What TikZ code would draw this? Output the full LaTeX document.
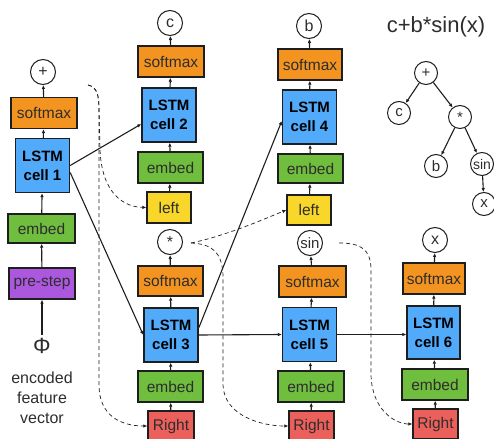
\documentclass[tikz,border=0pt]{standalone}
\usepackage{fontspec}
\setmainfont{Liberation Sans}
\usetikzlibrary{arrows.meta,calc}
\definecolor{smorange}{RGB}{244,148,32}
\definecolor{lstmblue}{RGB}{82,170,250}
\definecolor{embgreen}{RGB}{112,190,62}
\definecolor{leftyellow}{RGB}{248,214,42}
\definecolor{rightred}{RGB}{236,96,92}
\definecolor{prepurple}{RGB}{172,88,222}
\definecolor{boxline}{RGB}{30,30,30}
\definecolor{txt}{RGB}{45,45,45}
\begin{document}
\begin{tikzpicture}[x=1pt,y=-1pt,
 box/.style={draw=boxline,line width=1.4pt,minimum height=31pt,inner sep=0pt,text=txt,font=\fontsize{15.5}{17}\selectfont},
 cell/.style={box,fill=lstmblue,minimum width=54pt,minimum height=54pt,align=center,text=black,font=\fontsize{15}{19}\selectfont\bfseries},
 tok/.style={circle,draw=boxline,line width=1pt,minimum size=25pt,inner sep=0pt,text=txt,font=\fontsize{16}{17}\selectfont},
 tnode/.style={tok,minimum size=23pt,font=\fontsize{15}{16}\selectfont},
 arr/.style={-{Latex[length=4pt,width=3.6pt]},line width=1.1pt,draw=boxline},
 darr/.style={arr,line width=0.7pt,dash pattern=on 4pt off 3pt}]
\useasboundingbox (0,0) rectangle (494,438);
% first step
\node[tok] (plus1) at (43,72) {+};
\node[box,fill=smorange,minimum width=66pt] (sm1) at (44,113) {softmax};
\node[cell] (cell1) at (42.5,165.5) {LSTM\\cell 1};
\node[box,fill=embgreen,minimum width=67pt,minimum height=29pt] (emb1) at (41.5,228.5) {embed};
\node[box,fill=prepurple,minimum width=66pt] (pre) at (42,283.5) {pre-step};
\node[text=txt,font=\fontsize{22}{23}\selectfont] (phi) at (42,346) {Φ};
\node[align=center,text=txt,font=\fontsize{16}{20}\selectfont] (feat) at (42,398) {encoded\\feature\\vector};
\draw[arr](phi)--(pre);\draw[arr](pre)--(emb1);\draw[arr](emb1)--(cell1);\draw[arr](cell1)--(sm1);\draw[arr](sm1)--(plus1);
% left and right children of +
\node[tok] (c2) at (170,23) {c};
\node[box,fill=smorange,minimum width=66pt] (sm2) at (171,61.5) {softmax};
\node[cell] (cell2) at (169,115) {LSTM\\cell 2};
\node[box,fill=embgreen,minimum width=65pt] (emb2) at (170.5,167.5) {embed};
\node[box,fill=leftyellow,minimum width=44pt] (left2) at (169,207.5) {left};
\node[tok] (star3) at (170,242) {*};
\node[box,fill=smorange,minimum width=65pt,minimum height=30pt] (sm3) at (170.5,281) {softmax};
\node[cell] (cell3) at (171,335) {LSTM\\cell 3};
\node[box,fill=embgreen,minimum width=65pt] (emb3) at (170.5,386.5) {embed};
\node[box,fill=rightred,minimum width=46pt,minimum height=30pt] (right3) at (171,426) {Right};
\draw[arr](left2)--(emb2);\draw[arr](emb2)--(cell2);\draw[arr](cell2)--(sm2);\draw[arr](sm2)--(c2);
\draw[arr](right3)--(emb3);\draw[arr](emb3)--(cell3);\draw[arr](cell3)--(sm3);\draw[arr](sm3)--(star3);
% children of *
\node[tok] (b4) at (309,26) {b};
\node[box,fill=smorange,minimum width=64pt] (sm4) at (310,64.5) {softmax};
\node[cell] (cell4) at (309.5,117) {LSTM\\cell 4};
\node[box,fill=embgreen,minimum width=65pt,minimum height=29pt] (emb4) at (310.5,168.5) {embed};
\node[box,fill=leftyellow,minimum width=44pt,minimum height=30pt] (left4) at (309,210) {left};
\node[tok,font=\fontsize{15}{16}\selectfont] (sin5) at (310,243) {sin};
\node[box,fill=smorange,minimum width=67pt] (sm5) at (312.5,281.5) {softmax};
\node[cell] (cell5) at (309.5,334.5) {LSTM\\cell 5};
\node[box,fill=embgreen,minimum width=66pt] (emb5) at (311,386.5) {embed};
\node[box,fill=rightred,minimum width=45pt,minimum height=30pt] (right5) at (311.5,426) {Right};
\draw[arr](left4)--(emb4);\draw[arr](emb4)--(cell4);\draw[arr](cell4)--(sm4);\draw[arr](sm4)--(b4);
\draw[arr](right5)--(emb5);\draw[arr](emb5)--(cell5);\draw[arr](cell5)--(sm5);\draw[arr](sm5)--(sin5);
% child of sin
\node[tok] (x6) at (435,240) {x};
\node[box,fill=smorange,minimum width=62pt] (sm6) at (434,278.5) {softmax};
\node[cell,minimum width=53pt,minimum height=53pt] (cell6) at (433.5,332.5) {LSTM\\cell 6};
\node[box,fill=embgreen,minimum width=66pt] (emb6) at (435,384.5) {embed};
\node[box,fill=rightred,minimum width=45pt,minimum height=30pt] (right6) at (435.5,424) {Right};
\draw[arr](right6)--(emb6);\draw[arr](emb6)--(cell6);\draw[arr](cell6)--(sm6);\draw[arr](sm6)--(x6);
% hidden state
\draw[arr](cell1.east)--([yshift=-9]cell2.west);\draw[arr]([yshift=-7]cell1.east)--(cell3.west);
\draw[arr]([yshift=7]cell3.east)--([yshift=-4]cell4.west);\draw[arr](cell3.east)--(cell5.west);
\draw[arr](cell5.east)--(cell5.east -| cell6.west);
% parent tokens fed back
\coordinate (p1) at (88,85); \coordinate (s3) at (191,243); \coordinate (s5) at (339,243);
\draw[darr](p1) .. controls (97,87) and (99,95) .. (99,110) -- (100,150) .. controls (102,195) and (125,207) .. (left2.west);
\draw[darr](p1) .. controls (97,87) and (99,95) .. (99,110) -- (99,385) .. controls (99,415) and (120,426) .. (right3.west);
\draw[darr](s3) .. controls (225,236) and (262,220) .. (left4.west);
\draw[darr](s3) .. controls (212,244) and (222,252) .. (223,275) -- (223,385) .. controls (224,415) and (260,426) .. (right5.west);
\draw[darr](s5) .. controls (362,243) and (370,250) .. (371,268) -- (371,375) .. controls (372,410) and (395,424) .. (right6.west);
% expression tree
\node[text=txt,font=\fontsize{22}{24}\selectfont] (title) at (436,27) {c+b*sin(x)};
\node[tnode] (tplus) at (426,73) {+};
\node[tnode] (tc) at (399,113) {c};
\node[tnode] (tstar) at (460,117) {*};
\node[tnode] (tb) at (436,166) {b};
\node[tnode,font=\fontsize{14}{15}\selectfont] (tsin) at (482,164) {sin};
\node[tnode] (tx) at (484,204) {x};
\draw[arr](tplus)--(tc);\draw[arr](tplus)--(tstar);\draw[arr](tstar)--(tb);\draw[arr](tstar)--(tsin);\draw[arr](tsin)--(tx);
\end{tikzpicture}
\end{document}
